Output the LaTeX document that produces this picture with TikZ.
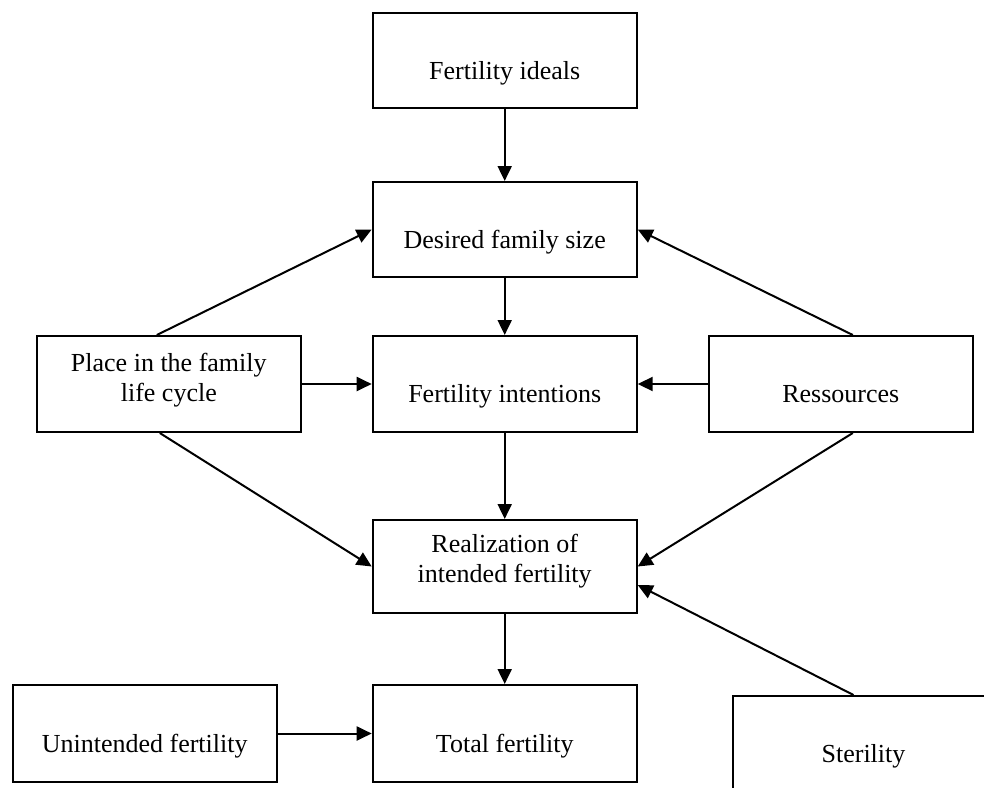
\documentclass[tikz,border=0pt]{standalone}
\usepackage{fontspec}
\setmainfont{Liberation Serif}
\usetikzlibrary{arrows.meta,calc}
\newcommand\boxtext[2]{\raisebox{#1}[0pt][0pt]{\vbox{\baselineskip=30pt\lineskiplimit=-100pt\halign{\hfil##\hfil\cr#2\cr}}}}
\begin{document}
\begin{tikzpicture}[x=1pt,y=-1pt,
  box/.style={draw,line width=2pt,minimum width=264pt,minimum height=95pt,inner sep=0pt,font=\fontsize{26}{30}\selectfont},
  arr/.style={line width=2pt,-{Triangle[length=15pt,width=14pt]}}]
\useasboundingbox (0,0) rectangle (984,787);
\clip (0,0) rectangle (984,787);
\node[box] (ideals) at (504.7,60.5) {\boxtext{-18.5pt}{Fertility ideals}};
\node[box] (desired) at (504.7,229.5) {\boxtext{-18.5pt}{Desired family size}};
\node[box,minimum height=96pt] (intent) at (504.7,384) {\boxtext{-18.5pt}{Fertility intentions}};
\node[box,minimum height=93pt] (real) at (504.7,566.5) {\boxtext{-16pt}{Realization of\cr intended fertility}};
\node[box,minimum height=97pt] (total) at (504.7,733.5) {\boxtext{-18.5pt}{Total fertility}};
\node[box,minimum height=96pt] (place) at (168.8,384) {\boxtext{-17.7pt}{Place in the family\cr life cycle}};
\node[box,minimum height=96pt] (res) at (840.8,384) {\boxtext{-18pt}{Ressources}};
\node[box,minimum height=97pt] (unint) at (144.7,733.5) {\boxtext{-18.5pt}{Unintended fertility}};
\node[box,minimum width=262pt,minimum height=114pt] (steril) at (863.5,753) {\boxtext{-9.7pt}{Sterility}};
\draw[arr] (ideals) -- (desired);
\draw[arr] (desired) -- (intent);
\draw[arr] (intent) -- (real);
\draw[arr] (real) -- (total);
\draw[arr] (place.east) -- (intent.west);
\draw[arr] (res.west) -- (intent.east);
\draw[arr] (unint.east) -- (total.west);
\draw[arr] ([xshift=-12pt]place.north) -- (desired.west);
\draw[arr] ([xshift=-9pt]place.south) -- (real.west);
\draw[arr] ([xshift=12pt]res.north) -- (desired.east);
\draw[arr] ([xshift=12pt]res.south) -- (real.east);
\draw[arr] ([xshift=-10pt]steril.north) -- ([yshift=-18.5pt]real.east);
\end{tikzpicture}
\end{document}
